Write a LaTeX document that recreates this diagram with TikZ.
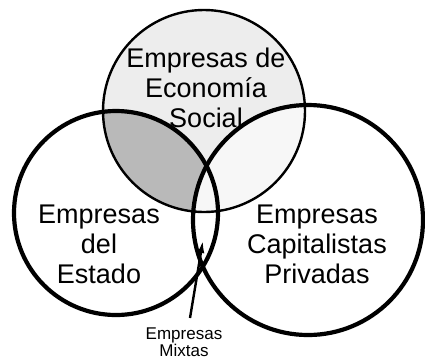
\documentclass[tikz,border=0pt]{standalone}
\usepackage{fontspec}
\setmainfont{Liberation Sans}
\usetikzlibrary{arrows.meta}
\tikzset{
  setcircle/.style = {circle, draw=black, inner sep=0pt, line width=4.2pt},
  socialcircle/.style = {circle, draw=black, inner sep=0pt, line width=2.4pt},
  setlabel/.style = {align=center, text centered, font=\fontsize{27}{30}\selectfont},
  smalllabel/.style = {align=center, text centered, font=\fontsize{17}{15}\selectfont}
}

\begin{document}
\begin{tikzpicture}[x=1pt, y=-1pt]
        \useasboundingbox (0,0) rectangle (425,360);
        % shading of the social circle
        \fill [gray!14] (204,111) circle (101);
        \begin{scope}
            \clip (204,111) circle (101);
            \fill [gray!55] (116,213) circle (102);
            \fill [gray!6] (308,220) circle (115);
        \end{scope}
        % the three sets
        \node [socialcircle, minimum size=202pt] (social) at (204,111) {};
        \node [setcircle, minimum size=204pt] (estado) at (116,213) {};
        \node [setcircle, minimum size=230pt] (privadas) at (308,220) {};
        % labels
        \node [setlabel] (sociallabel) at (206,88) {Empresas de\\Econom\'ia\\Social};
        \node [setlabel] (estadolabel) at (99,244) {Empresas\\del\\Estado};
        \node [setlabel] (privadaslabel) at (317,244) {Empresas\\Capitalistas\\Privadas};
        \node [smalllabel] (mixtaslabel) at (184,342) {Empresas\\Mixtas};
        \coordinate (mixtastail) at (190,318);
        \coordinate (mixtastip) at (203,240);
        \draw [line width=2.4pt, -{Latex[length=13pt, width=7pt]}] (mixtastail) -- (mixtastip);
\end{tikzpicture}
\end{document}
